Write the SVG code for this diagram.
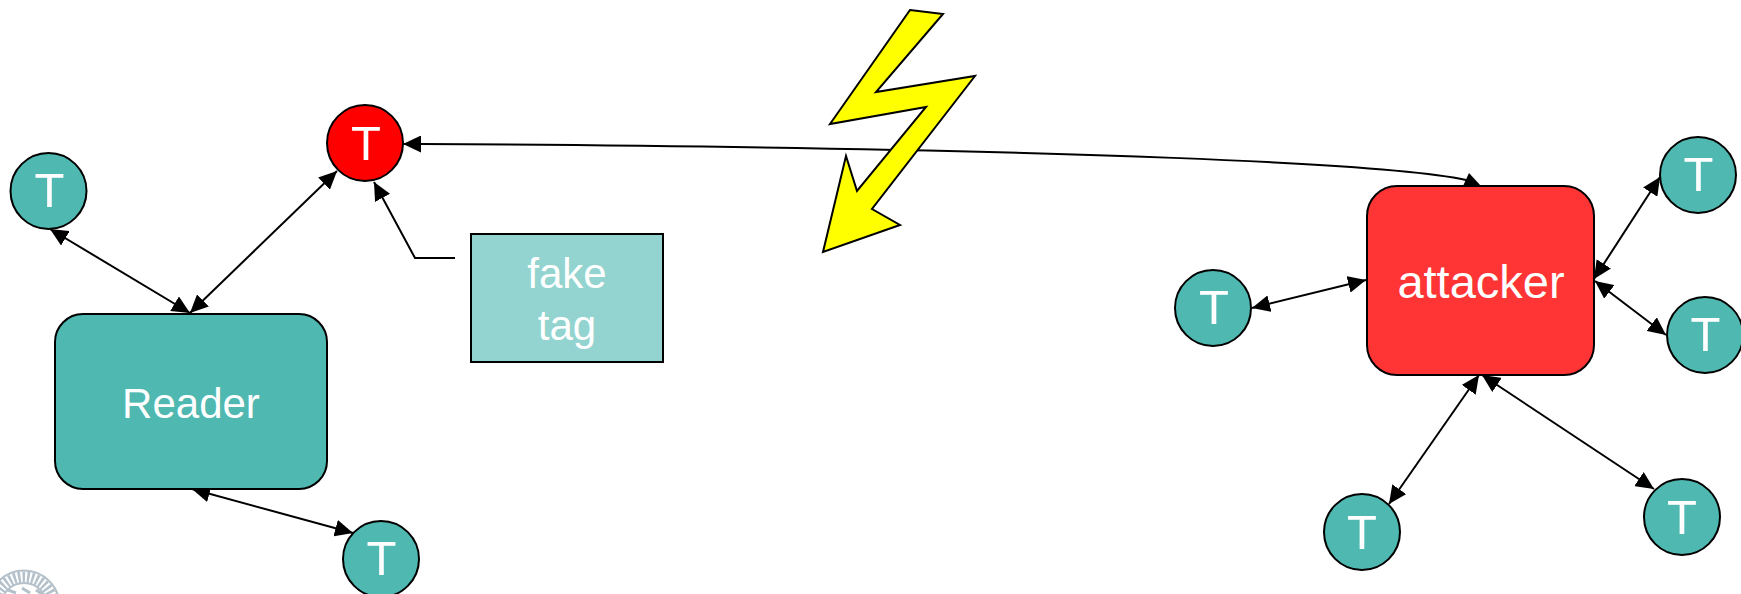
<svg xmlns="http://www.w3.org/2000/svg" width="1741" height="594" viewBox="0 0 1741 594">
<style>
.n{stroke:#000;stroke-width:2}
.teal{fill:#4fb8b1}
.c{fill:none;stroke:#000;stroke-width:2}
text{font-family:"Liberation Sans",Arial,sans-serif;fill:#fff;text-anchor:middle}
.t{font-size:49px}
.l{font-size:42px}
</style>
<defs>
<marker id="a" viewBox="0 0 18 17" refX="18" refY="8.500" markerWidth="18" markerHeight="17" markerUnits="userSpaceOnUse" orient="auto-start-reverse"><path d="M0 0L18 8.500L0 17Z" fill="#000"/></marker>
</defs>
<g id="logo" fill="none" stroke="#b4c1ca">
<circle cx="24" cy="606" r="29" stroke-width="11" stroke-dasharray="2.500 2"/>
<circle cx="24" cy="606" r="35.500" stroke-width="2"/>
<circle cx="24" cy="606" r="23" stroke-width="2"/>
<path d="M8 590L16 593M22 588L30 593M36 590L42 594" stroke-width="3"/>
</g>
<g id="connectors">
<path class="c" d="M1466 180C1400 165 1100 148 420 144"/>
<path class="c" d="M420 144L403 144" marker-end="url(#a)"/>
<path d="M1469 173L1481 186L1463 186Z" fill="#000"/>
<path class="c" d="M50 229L190 313" marker-start="url(#a)" marker-end="url(#a)"/>
<path class="c" d="M190 313L337 171" marker-start="url(#a)" marker-end="url(#a)"/>
<path class="c" d="M455 258L415 258L374 182" marker-end="url(#a)"/>
<path class="c" d="M192 489L353 533" marker-start="url(#a)" marker-end="url(#a)"/>
<path class="c" d="M1252 308L1366 280" marker-start="url(#a)" marker-end="url(#a)"/>
<path class="c" d="M1660 177L1594 279" marker-start="url(#a)" marker-end="url(#a)"/>
<path class="c" d="M1595 281L1666 335" marker-start="url(#a)" marker-end="url(#a)"/>
<path class="c" d="M1389 504L1479 375" marker-start="url(#a)" marker-end="url(#a)"/>
<path class="c" d="M1482 375L1654 489" marker-start="url(#a)" marker-end="url(#a)"/>
</g>
<g id="lightning"><path class="n" fill="#ff0" d="M910 10L943 14L876 92L975 76L872 209L900 225L823 252L846 156L857 191L926 107L830 124Z"/></g>
<g id="reader"><rect class="n teal" x="55" y="314" width="272" height="175" rx="28"/><text class="l" x="191" y="418">Reader</text></g>
<g id="fake-tag"><rect class="n" fill="#93d4d0" x="471" y="234" width="192" height="128"/><text class="l" x="567" y="288">fake</text><text class="l" x="567" y="340">tag</text></g>
<g id="attacker"><rect class="n" fill="#ff3535" x="1367" y="186" width="227" height="189" rx="30"/><text x="1481" y="298" font-size="47">attacker</text></g>
<g id="tag-red"><circle class="n" fill="#f00" cx="365" cy="143" r="38"/><text class="t" x="366" y="160">T</text></g>
<g id="tag-1"><circle class="n teal" cx="48.500" cy="191" r="38"/><text class="t" x="49.500" y="207">T</text></g>
<g id="tag-2"><circle class="n teal" cx="381" cy="559" r="38"/><text class="t" x="381.500" y="575">T</text></g>
<g id="tag-3"><circle class="n teal" cx="1213" cy="308" r="38"/><text class="t" x="1214" y="324">T</text></g>
<g id="tag-4"><circle class="n teal" cx="1698" cy="175" r="38"/><text class="t" x="1698.500" y="191">T</text></g>
<g id="tag-5"><circle class="n teal" cx="1705" cy="335" r="38"/><text class="t" x="1705.500" y="351">T</text></g>
<g id="tag-6"><circle class="n teal" cx="1362" cy="532" r="38"/><text class="t" x="1362" y="549">T</text></g>
<g id="tag-7"><circle class="n teal" cx="1682" cy="517" r="38"/><text class="t" x="1682" y="534">T</text></g>
</svg>
